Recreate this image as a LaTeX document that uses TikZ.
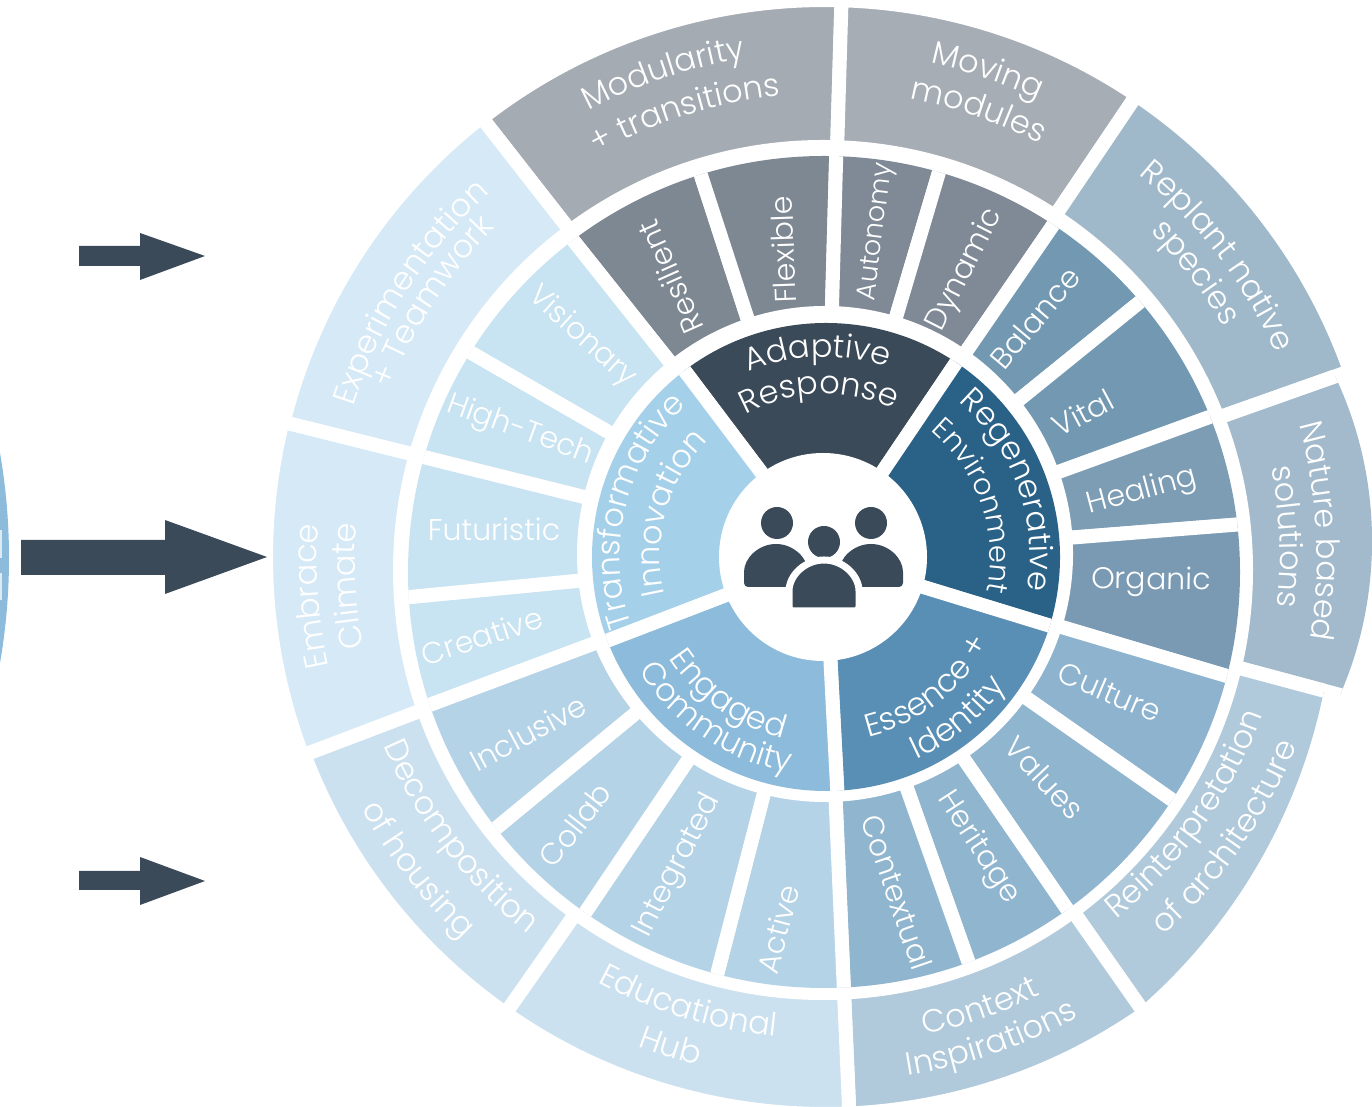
\documentclass[tikz,border=0pt]{standalone}
\usepackage{fontspec}
\setmainfont{Poppins Light}
\usetikzlibrary{decorations.text}
\definecolor{slate}{HTML}{3A4A58}
\definecolor{sliver}{HTML}{8DBBDC}
\newcommand{\corefont}{\fontsize{32}{32}\selectfont\color{white}}
\newcommand{\coresmall}{\fontsize{29}{29}\selectfont\color{white}}
\newcommand{\rimfont}{\fontsize{32}{32}\selectfont\color{white}}

% one sector of the wheel: colour, from angle, to angle, inner radius, outer radius
\newcommand{\sector}[5]{\definecolor{sectorfill}{HTML}{#1}\fill[sectorline,fill=sectorfill] (#2:#4) arc[start angle=#2,end angle=#3,radius=#4] -- (#3:#5) arc[start angle=#3,end angle=#2,radius=#5] -- cycle;}
% one curved label: font, from angle, to angle, radius, text
\newcommand{\bentlabel}[5]{\path[decorate,decoration={text along path,text align=center,text={|#1|#5}}] (#2:#4) arc[start angle=#2,end angle=#3,radius=#4];}

\tikzset{
  sectorline/.style={draw=white,line width=14,line join=miter},
  spokelabel/.style={text=white,font=\fontsize{30}{30}\selectfont,inner sep=0},
  blockarrow/.style={fill=slate},
  person/.style={fill=slate,rounded corners=4}
}

\begin{document}
\begin{tikzpicture}[x=1pt,y=1pt]
\useasboundingbox (0,0) rectangle (1372,1107);

% the wheel beyond the left edge
\fill[sliver] (-603,549) circle[radius=612];
\fill[white!70!sliver] (0,507) rectangle (2,534);
\fill[white!70!sliver] (0,549) rectangle (2,577);

\begin{scope}[shift={(825,550)}]
% outer ring
\sector{A4ABB3}{128}{88.3}{350}{557}
\sector{A6ADB5}{88.3}{56}{350}{557}
\sector{A0B9CA}{56}{19.5}{350}{557}
\begin{scope}
\clip (162,16) circle[radius=385];
\sector{A2BACB}{19.5}{-15}{350}{600}
\end{scope}
\begin{scope}
\clip (-60,-21) circle[radius=570];
\sector{B0CADB}{-15}{-55}{350}{600}
\end{scope}
\sector{B0CADB}{-55}{-87.5}{350}{557}
\sector{CCE1EF}{-87.5}{-125}{350}{557}
\sector{CCE1EF}{-125}{-159.2}{350}{557}
\sector{D6E9F6}{-159.2}{-194}{350}{559}
\sector{D6E9F6}{-194}{-232}{350}{558}
\fill[white] (-2,-13) circle[radius=430];
% middle ring
\begin{scope}
\clip (-1,-15) circle[radius=416];
\sector{7E8893}{128.5}{108}{200}{460}
\sector{7E8893}{108}{88.4}{200}{460}
\sector{7F8A96}{88.4}{73.5}{200}{460}
\sector{7F8A96}{73.5}{55.5}{200}{460}
\sector{7399B2}{55.5}{39}{200}{460}
\sector{7399B2}{39}{20}{200}{460}
\sector{7D9DB5}{20}{4.5}{200}{460}
\sector{7A9AB3}{4.5}{-16.5}{200}{460}
\sector{8DB3CE}{-16.5}{-35}{200}{460}
\sector{90B5CF}{-35}{-55.5}{200}{460}
\sector{90B5CF}{-55.5}{-70.5}{200}{460}
\sector{90B5CF}{-70.5}{-87.5}{200}{460}
\sector{B5D3E7}{-87.5}{-104.5}{200}{460}
\sector{B5D3E7}{-104.5}{-124}{200}{460}
\sector{B5D3E7}{-124}{-140.5}{200}{460}
\sector{B5D3E7}{-140.5}{-159.5}{200}{460}
\sector{C8E3F1}{-159.5}{-174.5}{200}{460}
\sector{C8E3F1}{-174.5}{-194}{200}{460}
\sector{C8E3F1}{-194}{-210}{200}{460}
\sector{C8E3F1}{-210}{-231.5}{200}{460}
\end{scope}
\fill[white] (0,3) circle[radius=248];
% core ring
\begin{scope}
\clip (1,0) circle[radius=234];
\sector{3A4A58}{127}{56}{60}{260}
\sector{2A6187}{56}{-17}{60}{260}
\sector{5A8FB5}{-17}{-87}{60}{260}
\sector{8CBBDB}{-87}{-159}{60}{260}
\sector{A5D0EA}{-159}{-233}{60}{260}
\end{scope}

% core labels
\bentlabel{\corefont}{135}{49}{200}{Adaptive}
\bentlabel{\corefont}{140}{44}{163}{Response}
\bentlabel{\corefont}{65}{-25}{205}{Regenerative}
\bentlabel{\coresmall}{75}{-37}{165}{Environment}
\bentlabel{\corefont}{211}{121}{205}{Transformative}
\bentlabel{\corefont}{214}{114}{165}{Innovation}
\bentlabel{\corefont}{195}{275}{186}{Engaged}
\bentlabel{\corefont}{196}{276}{218}{Community}
\bentlabel{\corefont}{-92}{-12}{185}{Essence +}
\bentlabel{\corefont}{-90}{-11}{222}{Identity}

% middle labels
\node[spokelabel,rotate=114] (resilient) at (-155,280) {Resilient};
\node[spokelabel,rotate=92] (flexible) at (-42,307) {Flexible};
\node[spokelabel,rotate=83,font=\fontsize{27}{27}\selectfont] (autonomy) at (52,325) {Autonomy};
\node[spokelabel,rotate=63] (dynamic) at (140,287) {Dynamic};
\node[spokelabel,rotate=50] (balance) at (210,239) {Balance};
\node[spokelabel,rotate=28] (vital) at (258,144) {Vital};
\node[spokelabel,rotate=15] (healing) at (317,65) {Healing};
\node[spokelabel,rotate=-1] (organic) at (326,-25) {Organic};
\node[spokelabel,rotate=-23] (culture) at (285,-135) {Culture};
\node[spokelabel,rotate=-47] (values) at (220,-221) {Values};
\node[spokelabel,rotate=-57] (heritage) at (153,-291) {Heritage};
\node[spokelabel,rotate=-71] (contextual) at (72,-335) {Contextual};
\node[spokelabel,rotate=75] (active) at (-47,-372) {Active};
\node[spokelabel,rotate=63] (integrated) at (-147,-309) {Integrated};
\node[spokelabel,rotate=52] (collab) at (-250,-268) {Collab};
\node[spokelabel,rotate=28] (inclusive) at (-297,-176) {Inclusive};
\node[spokelabel,rotate=18] (creative) at (-343,-79) {Creative};
\node[spokelabel] (futuristic) at (-331,28) {Futuristic};
\node[spokelabel,rotate=-20] (hightech) at (-305,126) {High-Tech};
\node[spokelabel,rotate=-42] (visionary) at (-243,220) {Visionary};

% outer labels
\bentlabel{\rimfont}{135}{82}{505}{Modularity}
\bentlabel{\rimfont}{135}{80}{463}{+ transitions}
\bentlabel{\rimfont}{98}{45}{505}{Moving}
\bentlabel{\rimfont}{98}{44}{466}{modules}
\bentlabel{\rimfont}{64}{11}{495}{Replant native}
\bentlabel{\rimfont}{64}{11}{460}{species}
\bentlabel{\rimfont}{29}{-23}{492}{Nature based}
\bentlabel{\rimfont}{28}{-23}{455}{solutions}
\bentlabel{\rimfont}{-65}{-6}{465}{Reinterpretation}
\bentlabel{\rimfont}{-60}{-10}{508}{of architecture}
\bentlabel{\rimfont}{-97}{-45}{488}{Context}
\bentlabel{\rimfont}{-97}{-45}{525}{Inspirations}
\bentlabel{\rimfont}{227}{279}{482}{Educational}
\bentlabel{\rimfont}{226}{279}{524}{Hub}
\bentlabel{\rimfont}{186}{249}{480}{Decomposition}
\bentlabel{\rimfont}{191}{244}{527}{of housing}
\bentlabel{\rimfont}{210}{158.8}{508}{Embrace}
\bentlabel{\rimfont}{209}{158}{470}{Climate}
\bentlabel{\rimfont}{178}{117}{495}{Experimentation}
\bentlabel{\rimfont}{173}{121}{466}{+ Teamwork}

% people in the middle
\fill[white] (-2,0) circle[radius=104];
\fill[slate] (-48,34) circle[radius=16];
\fill[slate] (46,34) circle[radius=16];
\fill[slate] (-1,15) circle[radius=16];
\fill[person] (-81,-30) -- (-81,-19) arc[start angle=180,end angle=0,radius=32] -- (-17,-30) -- cycle;
\fill[person] (14,-30) -- (14,-19) arc[start angle=180,end angle=0,radius=32] -- (78,-30) -- cycle;
\fill[person,draw=white,line width=7] (-36,-54) -- (-36,-38) arc[start angle=180,end angle=0,radius=35] -- (34,-54) -- cycle;
\end{scope}

% arrows
\fill[blockarrow] (21,532) -- (165,532) -- (165,513) -- (267,550) -- (165,587) -- (165,567) -- (21,567) -- cycle;
\fill[blockarrow] (79,841) -- (140,841) -- (140,827) -- (205,851) -- (140,874) -- (140,861) -- (79,861) -- cycle;
\fill[blockarrow] (79,217) -- (140,217) -- (140,202) -- (205,226) -- (140,250) -- (140,236) -- (79,236) -- cycle;
\end{tikzpicture}
\end{document}
